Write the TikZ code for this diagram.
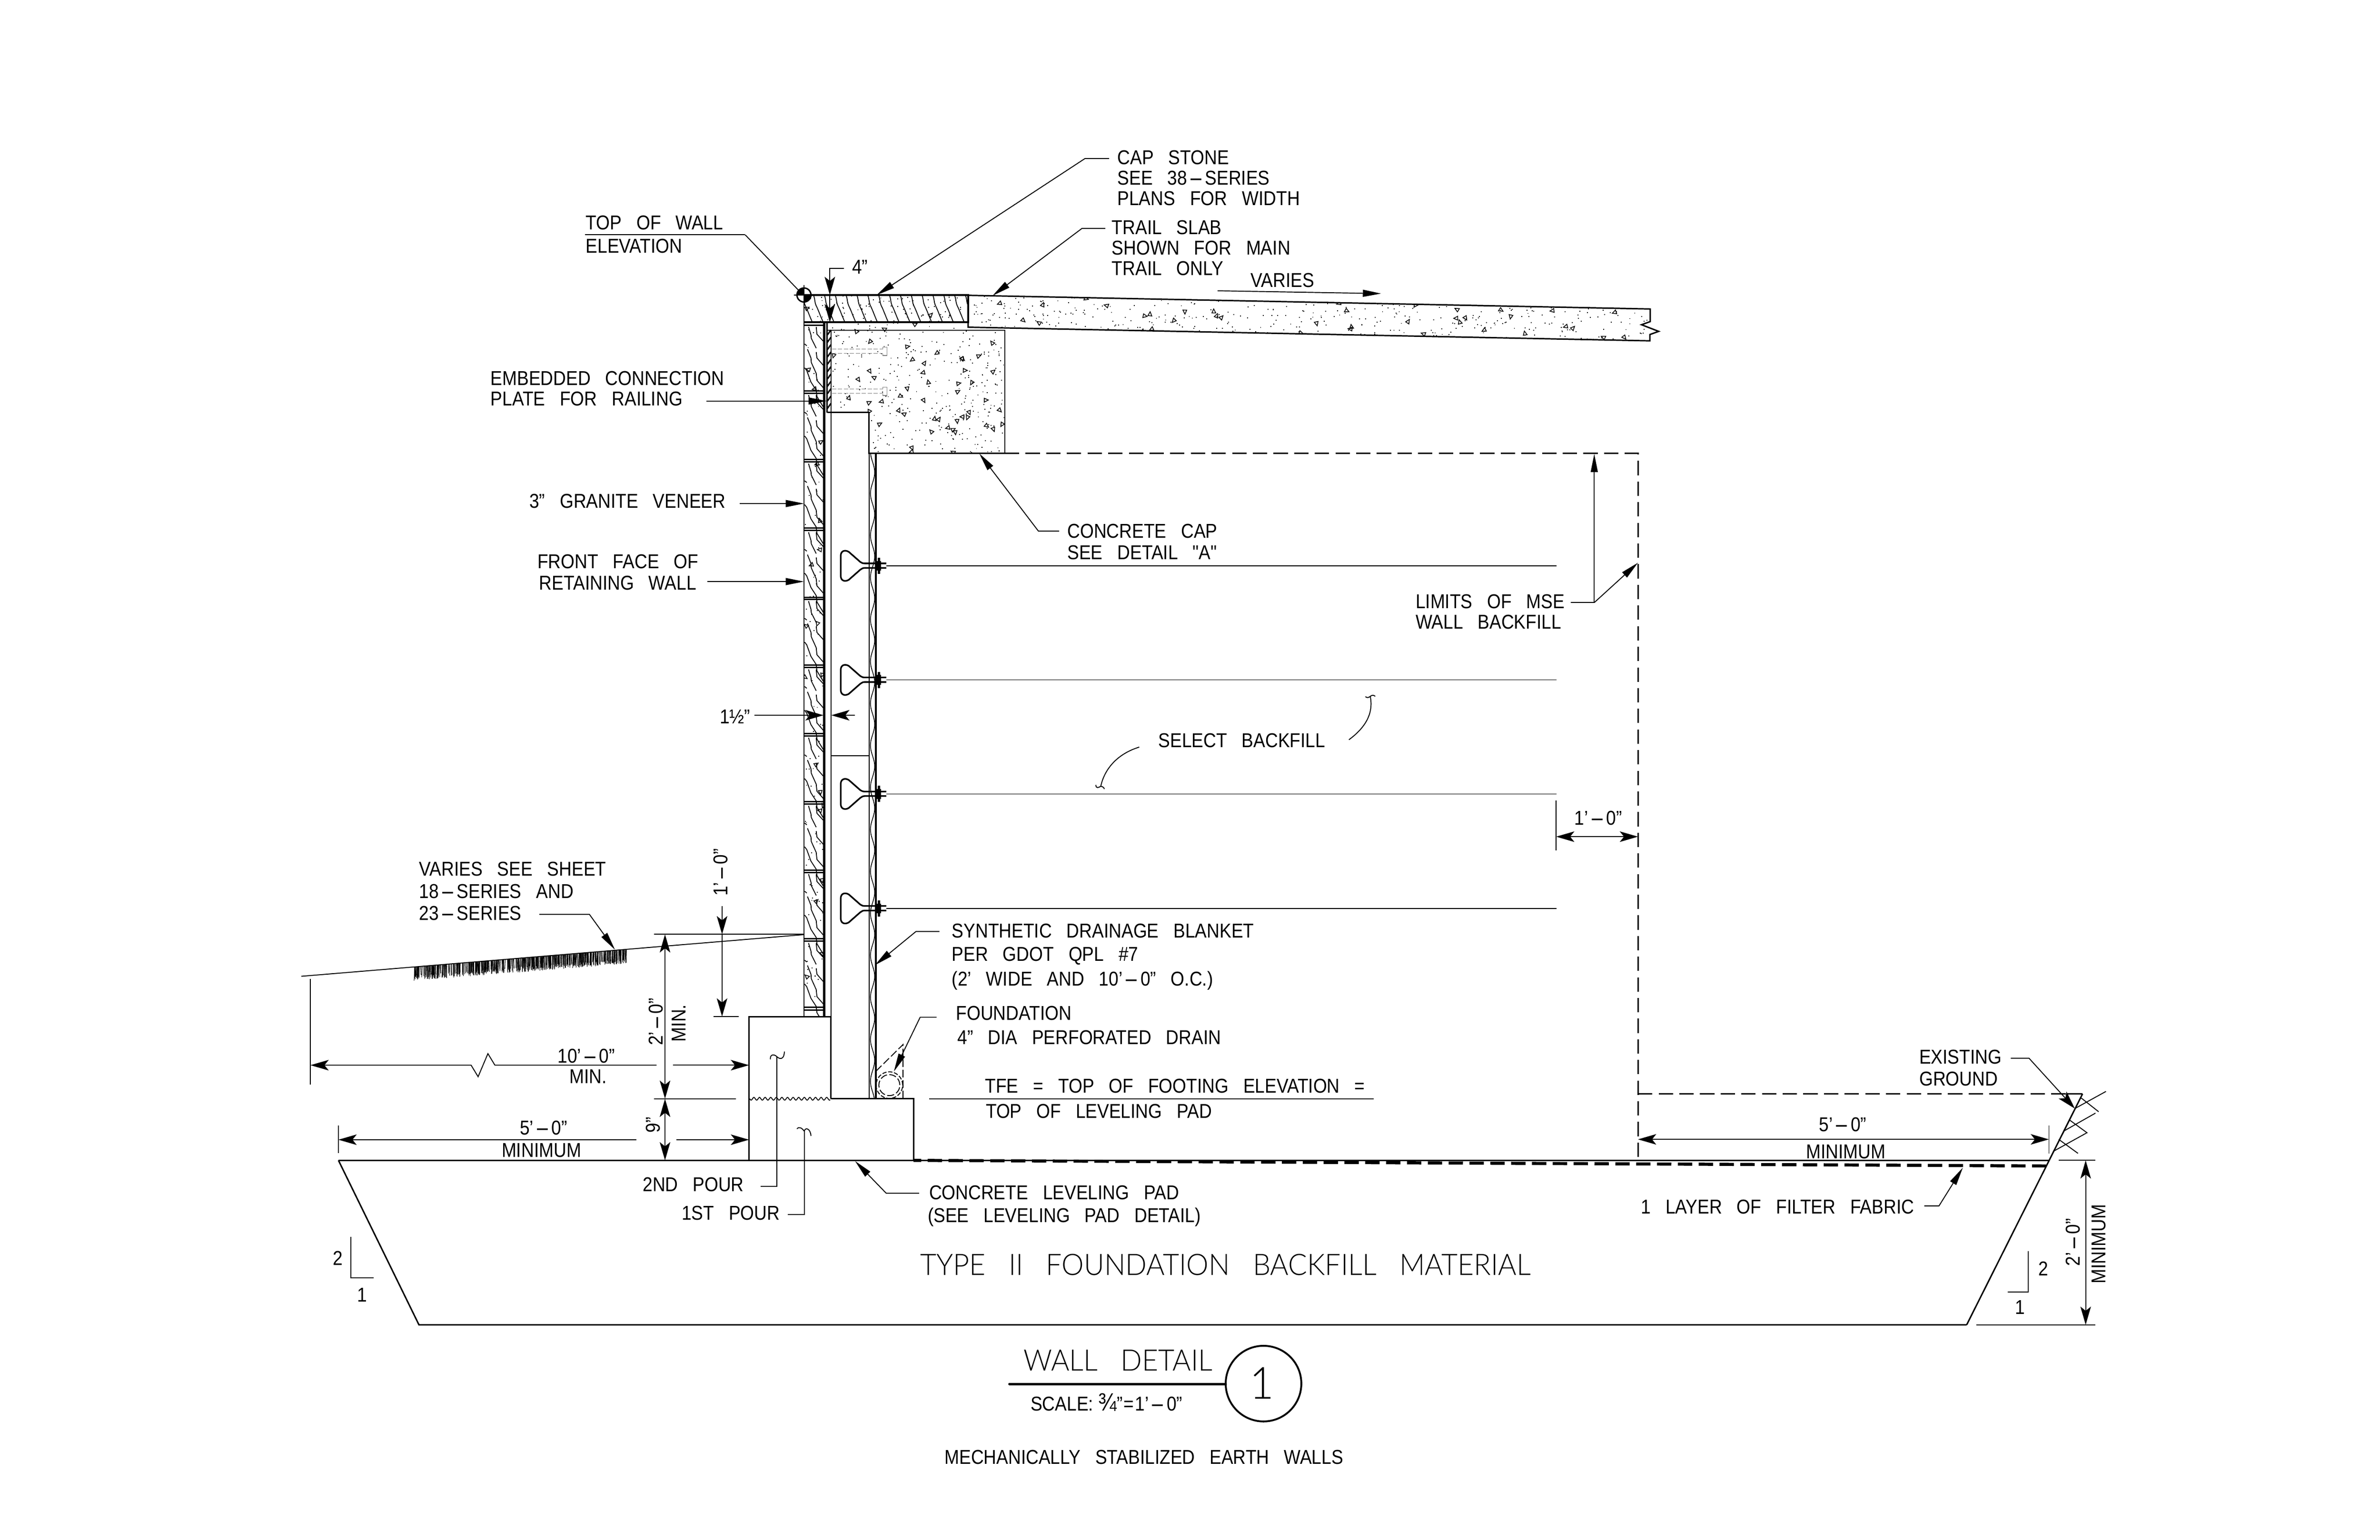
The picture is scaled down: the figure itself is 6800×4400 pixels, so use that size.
\documentclass[tikz,border=0pt]{standalone}
\usepackage{fontspec}
\usepackage{graphicx}
\usetikzlibrary{arrows.meta}
\setmainfont{Liberation Sans}
\newfontfamily\cad[FakeStretch=0.88,WordSpace=3]{Liberation Sans}
\newfontfamily\cadbig[FakeStretch=0.95,WordSpace=3,UprightFont={* Light}]{Lato}
\newcommand{\hy}{\kern.08em\scalebox{2.5}[1]{-}\kern.08em}
\tikzset{
  thinl/.style={line width=.75pt},
  medl/.style={line width=1.15pt},
  thickl/.style={line width=1.7pt},
  crack/.style={line width=.7pt},
  barb/.tip={Stealth[length=.52cm,width=.3cm,inset=.12cm]},
  tri/.tip={Triangle[length=.52cm,width=.2cm]},
  dashl/.style={medl,dash pattern=on .41cm off .18cm},
  lbl/.style={font=\cad\fontsize{16.3}{16.3}\selectfont,anchor=base west,inner sep=0pt},
  lblc/.style={font=\cad\fontsize{16.3}{16.3}\selectfont,anchor=base,inner sep=0pt},
  lblr/.style={lblc,rotate=90},
  big/.style={font=\cadbig\fontsize{24}{24}\selectfont,anchor=base west,inner sep=0pt},
  lead/.style={thinl,-{tri}},
  dim/.style={thinl,-{barb}},
}
\newcommand{\stipple}[7]{% count, x, w, y, h, triangles, extra
  \foreach \i in {1,...,#1}{
    \pgfmathsetmacro\rx{#2+rnd*#3}\pgfmathsetmacro\ry{#4+rnd*#5}
    \fill (\rx,\ry) rectangle ++(2.6,2.6);
  }
  \foreach \i in {1,...,#6}{
    \pgfmathsetmacro\rx{#2+rnd*#3}\pgfmathsetmacro\ry{#4+rnd*#5}\pgfmathsetmacro\ra{rnd*360}
    \draw[line width=.6pt,shift={(\rx,\ry)},rotate=\ra] (-5,3.5)--(6,3.5)--(0,-8)--cycle;
  }
}
\begin{document}
\begin{tikzpicture}[x=0.01cm,y=-0.01cm]
\useasboundingbox (0,0) rectangle (6800,4400);
\fill[white] (0,0) rectangle (6800,4400);
\pgfmathsetseed{4711}

% ---------- concrete cap stipple
\begin{scope}
  \clip (2363,921)--(2766,921)--(2766,944)--(2871,944)--(2871,1296)--(2482,1296)--(2482,1179)--(2363,1179)--cycle;
  \stipple{330}{2375}{496}{921}{375}{58}{}
\end{scope}
% hidden anchors
\foreach \y in {1004,1118}{
  \draw[gray,line width=.5pt,dash pattern=on .12cm off .05cm] (2377,\y-6)--(2522,\y-6) (2377,\y+6)--(2522,\y+6);
  \draw[gray,line width=.5pt] (2522,\y-6)--(2522,\y-12)--(2534,\y-12)--(2534,\y+12)--(2522,\y+12)--(2522,\y+6);
}
% concrete cap outline
\draw[thinl] (2363,944)--(2871,944)--(2871,1296);
\draw[medl] (2871,1296)--(2482,1296)--(2482,1179)--(2363,1179);
\draw[medl] (2363,921)--(2363,1179);
\draw[thinl] (2375,944)--(2375,3140);
\foreach \y in {950,971,...,1170}{\draw[medl] (2364,\y+7)--(2374,\y-7);}

% ---------- trail slab
\begin{scope}
  \clip (2766,844)--(4715,883)--(4715,974)--(2766,935)--cycle;
  \stipple{520}{2770}{1945}{840}{135}{62}{}
\end{scope}
\draw[medl] (2766,844)--(4715,883)--(4715,919)--(4690,928)--(4739,947)--(4714,956)--(4714,974)--(2766,935)--cycle;

% ---------- cap stone
\begin{scope}
  \clip (2297,843) rectangle (2766,921);
  \stipple{90}{2297}{469}{843}{78}{0}{}
  \foreach \k in {0,...,15}{
    \draw[crack,shift={({2293+31*\k},843)}] (0,0) .. controls (6,15) and (2,20) .. (10,35) .. controls (16,48) and (18,55) .. (28,78);
  }
\end{scope}
\draw[thickl] (2297,843)--(2766,843)--(2766,921)--(2297,921);
\draw[thinl] (2297,843)--(2297,2906);

% ---------- veneer
\begin{scope}
  \clip (2297,921) rectangle (2355,2906);
  \foreach \t in {929,1124,1320,1516,1713,1908,2103,2298,2493,2690}{
    \begin{scope}[shift={(2297,\t)}]
      \draw[crack] (10,69)--(20,94)--(21,107)--(35,138)--(37,158)--(57,181);
      \draw[crack] (2,122)--(8,130)--(20,163)--(35,186)--(37,204)--(57,237);
      \draw[crack] (35,77)--(37,94)--(57,117);
      \draw[crack] (13,5)--(20,28)--(21,38)--(35,66);
      \draw[crack] (35,5)--(37,26)--(57,48);
      \draw[crack] (2,54)--(8,59);
    \end{scope}
    \stipple{10}{2299}{54}{\t}{190}{0}{}
  }
\end{scope}
\draw[medl] (2297,929)--(2297,2906);
\draw[thickl] (2355,921)--(2355,2906);
\draw[medl] (2297,929)--(2355,929);
\foreach \a/\b in {1117/1124,1313/1320,1509/1516,1707/1713,1901/1908,2096/2103,2291/2298,2487/2493,2683/2690,2879/2886}{
  \draw[medl] (2297,\a)--(2355,\a) (2297,\b)--(2355,\b);
}

% ---------- wall panel, blanket, straps
\draw[thinl] (2483,1296)--(2483,3140);
\draw[thinl] (2375,2160)--(2483,2160);
\draw[line width=1.4pt] (2502,1296)--(2502,3140);
\draw[line width=.6pt] plot[domain=1296:3140,samples=240,smooth] ({2493+6*sin(\x*3)},\x);
\foreach \s in {1617,1943,2269,2596}{
  \draw[line width=1.3pt,line join=round] (2532,\s-7)--(2470,\s-7) .. controls (2464,\s-7) and (2462,\s-9) .. (2458,\s-11)
     --(2425,\s-40) .. controls (2415,\s-46) and (2402,\s-44) .. (2402,\s-28)
     --(2402,\s+28) .. controls (2402,\s+44) and (2415,\s+46) .. (2425,\s+40)
     --(2458,\s+11) .. controls (2462,\s+9) and (2464,\s+6) .. (2470,\s+6) --(2532,\s+6);
  \fill (2508,\s-23) rectangle (2515,\s+23);
  \fill (2502,\s-14) rectangle (2518,\s+14);
  \draw[line width=.55pt] (2532,\s)--(4447,\s);
}

% ---------- footing
\draw[medl] (2374,3140)--(2374,2906)--(2140,2906)--(2140,3316);
\draw[medl] (2374,3140)--(2610,3140)--(2610,3316);
\draw[line width=.7pt] plot[domain=0:230,samples=120] ({2142+\x},{3140+4*sin(\x*22.5)});

% ---------- drain
\draw[thinl,dash pattern=on .12cm off .05cm] (2541,3101) circle[radius=.38cm];
\draw[thinl,dash pattern=on .2cm off .07cm] (2541,3101) circle[radius=.3cm];
\draw[thinl,dash pattern=on .22cm off .08cm] (2503,3061)--(2580,2985)--(2580,3140);

% ---------- ground and backfill
\draw[medl] (967,3316)--(2610,3316) (2610,3316)--(5854,3316);
\draw[medl] (967,3316)--(1197,3786)--(5619,3786);
\draw[medl] (5950,3126)--(5619,3786);
\draw[line width=2.5pt,dash pattern=on .41cm off .185cm,dash phase=.19cm] (2610,3316)--(5846,3332);
\draw[dashl] (2871,1296)--(4680,1296)--(4680,3316);
\draw[dashl] (4680,3126)--(5905,3126);
\draw[medl] (5905,3126)--(5950,3126);
\draw[thinl] (5928,3168)--(6017,3119) (5944,3136)--(5996,3177)
             (5897,3232)--(5987,3181) (5912,3200)--(5964,3238)
             (5867,3290)--(5961,3238) (5882,3256)--(5937,3296);

% grade and turf
\draw[thinl] (861,2790)--(2296,2671);
\begin{scope}
\foreach \i in {1,...,520}{
  \pgfmathsetmacro\rx{1184+rnd*607}
  \pgfmathsetmacro\ry{2763-(\rx-1184)*0.0807}
  \pgfmathsetmacro\rl{24+rnd*16}
  \draw[line width=.4pt] (\rx,\ry)--({\rx+rnd*4-2},\ry+\rl);
}
\end{scope}

% ---------- top of wall marker
\fill (2297,843) -- (2317,843) arc[start angle=0,end angle=-90,radius=.2cm] -- cycle;
\fill (2297,843) -- (2277,843) arc[start angle=180,end angle=90,radius=.2cm] -- cycle;
\draw[medl] (2297,843) circle[radius=.2cm];
\draw[thinl] (2269,843)--(2325,843) (2297,815)--(2297,871);

% ---------- leaders
\draw[thinl] (2129,671)--(2282,830);
\draw[thinl] (1671,671)--(2129,671);
\draw[lead] (3169,453)--(3100,453)--(2505,843);
\draw[lead] (3158,653)--(3091,653)--(2836,845);
\draw[lead] (3479,831)--(3946,839);
\draw[dim] (2411,767)--(2371,767)--(2371,843);
\draw[dim] (2371,843)--(2371,921);
\draw[lead] (2018,1146)--(2362,1146);
\draw[lead] (2113,1439)--(2297,1439);
\draw[lead] (2021,1662)--(2297,1662);
\draw[lead] (3026,1518)--(2967,1518)--(2798,1296);
\draw[lead] (4488,1722)--(4555,1722)--(4555,1297);
\draw[lead] (4555,1722)--(4680,1608);
\draw[dim] (2155,2044)--(2353,2044);
\draw[dim] (2442,2044)--(2375,2044);
\draw[lead] (1541,2613)--(1684,2613)--(1757,2714);
\draw[lead] (2684,2662)--(2617,2662)--(2500,2758);
\draw[lead] (2676,2907)--(2629,2907)--(2554,3062);
\draw[thinl] (2655,3140)--(3925,3140);
\draw[lead] (2626,3410)--(2532,3410)--(2443,3318);
\draw[lead] (5498,3446)--(5540,3446)--(5608,3337);
\draw[dim] (5745,3024)--(5797,3024)--(5928,3168);

% pour leaders
\draw[thinl] (2173,3391)--(2220,3391)--(2220,3020);
\draw[thinl] (2201,3027) .. controls (2200,3012) and (2212,3012) .. (2220,3020) .. controls (2228,3028) and (2241,3028) .. (2241,3005);
\draw[thinl] (2251,3471)--(2298,3471)--(2298,3233);
\draw[thinl] (2277,3226) .. controls (2283,3218) and (2292,3224) .. (2298,3233) .. controls (2300,3220) and (2316,3225) .. (2317,3246);

% select backfill curved leaders
\draw[thinl] (3255,2135) .. controls (3190,2155) and (3155,2200) .. (3145,2247);
\draw[thinl] (3131,2243) .. controls (3131,2255) and (3140,2250) .. (3145,2247) .. controls (3152,2248) and (3155,2252) .. (3155,2255);
\draw[thinl] (3854,2114) .. controls (3900,2080) and (3925,2040) .. (3915,1990);
\draw[thinl] (3901,1991) .. controls (3908,1996) and (3912,1992) .. (3915,1990) .. controls (3920,1985) and (3927,1987) .. (3929,1990);

% ---------- dimensions
\draw[thinl] (887,2798)--(887,3100);
\draw[thinl,{barb}-] (887,3044)--(1346,3044)--(1366,3077)--(1394,3011)--(1414,3044)--(1876,3044);
\draw[dim] (1923,3044)--(2140,3044);
\draw[thinl] (967,3217)--(967,3295);
\draw[thinl,{barb}-] (967,3257)--(1818,3257);
\draw[dim] (1932,3257)--(2140,3257);
\draw[thinl] (1869,2670)--(2296,2670);
\draw[thinl] (1869,3140)--(2102,3140);
\draw[thinl,{barb}-{barb}] (1900,2670)--(1900,3140);
\draw[thinl,{barb}-{barb}] (1900,3140)--(1900,3316);
\draw[dim] (2063,2590)--(2063,2670);
\draw[dim] (2063,2670)--(2063,2905);
\draw[thinl] (2038,2905)--(2111,2905);
\draw[thinl] (4446,2288)--(4446,2430);
\draw[thinl,{barb}-{barb}] (4446,2391)--(4680,2391);
\draw[thinl] (5854,3217)--(5854,3297);
\draw[thinl,{barb}-{barb}] (4680,3256)--(5854,3256);
\draw[thinl] (5882,3316)--(5987,3316) (5647,3786)--(5987,3786);
\draw[thinl,{barb}-{barb}] (5959,3316)--(5959,3786);
% slope marks
\draw[thinl] (1002,3534)--(1002,3652)--(1067,3652);
\draw[thinl] (5795,3575)--(5795,3692)--(5736,3692);

% ---------- title block
\draw[line width=1.9pt,line cap=round] (2884,3955)--(3502,3955);
\draw[line width=1.5pt] (3610,3954) circle[radius=1.08cm];

% ---------- text
\node[lbl] (t1) at (1673,656) {TOP OF WALL};
\node[lbl] (t2) at (1673,723) {ELEVATION};
\node[lbl] (t3) at (3192,470) {CAP STONE};
\node[lbl] (t4) at (3192,528) {SEE 38\hy SERIES};
\node[lbl] (t5) at (3192,587) {PLANS FOR WIDTH};
\node[lbl] (t6) at (3176,670) {TRAIL SLAB};
\node[lbl] (t7) at (3176,728) {SHOWN FOR MAIN};
\node[lbl] (t8) at (3176,787) {TRAIL ONLY};
\node[lbl] (t9) at (3573,821) {VARIES};
\node[lbl] (t10) at (2434,782) {4”};
\node[lbl] (t11) at (1401,1101) {EMBEDDED CONNECTION};
\node[lbl] (t12) at (1401,1160) {PLATE FOR RAILING};
\node[lbl] (t13) at (1512,1452) {3” GRANITE VENEER};
\node[lbl] (t14) at (1535,1625) {FRONT FACE OF};
\node[lbl] (t15) at (1540,1686) {RETAINING WALL};
\node[lbl] (t16) at (3049,1538) {CONCRETE CAP};
\node[lbl] (t17) at (3049,1599) {SEE DETAIL "A"};
\node[lbl] (t18) at (4044,1739) {LIMITS OF MSE};
\node[lbl] (t19) at (4044,1797) {WALL BACKFILL};
\node[lbl] (t20) at (2056,2068) {1½”};
\node[lbl] (t21) at (3309,2136) {SELECT BACKFILL};
\node[lbl] (t22) at (4498,2357) {1’\hy 0”};
\node[lbl] (t23) at (1197,2503) {VARIES SEE SHEET};
\node[lbl] (t24) at (1197,2567) {18\hy SERIES AND};
\node[lbl] (t25) at (1197,2630) {23\hy SERIES};
\node[lbl] (t26) at (2719,2680) {SYNTHETIC DRAINAGE BLANKET};
\node[lbl] (t27) at (2719,2747) {PER GDOT QPL \#7};
\node[lbl] (t28) at (2719,2817) {(2’ WIDE AND 10’\hy 0” O.C.)};
\node[lbl] (t29) at (2731,2915) {FOUNDATION};
\node[lbl] (t30) at (2735,2985) {4” DIA PERFORATED DRAIN};
\node[lbl] (t31) at (2814,3123) {TFE = TOP OF FOOTING ELEVATION =};
\node[lbl] (t32) at (2816,3195) {TOP OF LEVELING PAD};
\node[lbl] (t33) at (5483,3040) {EXISTING};
\node[lbl] (t34) at (5483,3103) {GROUND};
\node[lblc] (t35) at (1675,3037) {10’\hy 0”};
\node[lblc] (t36) at (1680,3096) {MIN.};
\node[lblc] (t37) at (1553,3243) {5’\hy 0”};
\node[lblc] (t38) at (1547,3307) {MINIMUM};
\node[lblc] (t39) at (5265,3234) {5’\hy 0”};
\node[lblc] (t40) at (5274,3311) {MINIMUM};
\node[lbl] (t41) at (1836,3405) {2ND POUR};
\node[lbl] (t42) at (1947,3486) {1ST POUR};
\node[lbl] (t43) at (2654,3428) {CONCRETE LEVELING PAD};
\node[lbl] (t44) at (2650,3493) {(SEE LEVELING PAD DETAIL)};
\node[lbl] (t45) at (4688,3468) {1 LAYER OF FILTER FABRIC};
\node[lblr] (t46) at (1894,2920) {2’\hy 0”};
\node[lblr] (t47) at (1959,2924) {MIN.};
\node[lblr] (t48) at (2079,2493) {1’\hy 0”};
\node[lblr] (t49) at (1885,3215) {9”};
\node[lblr] (t50) at (5943,3550) {2’\hy 0”};
\node[lblr] (t51) at (6016,3555) {MINIMUM};
\node[lbl] (t52) at (950,3616) {2};
\node[lbl] (t53) at (1020,3720) {1};
\node[lbl] (t54) at (5823,3646) {2};
\node[lbl] (t55) at (5757,3756) {1};
\node[big] (t56) at (2629,3644) {TYPE II FOUNDATION BACKFILL MATERIAL};
\node[big] (t57) at (2924,3918) {WALL DETAIL};
\node[lbl] (t58) at (2944,4032) {SCALE:\kern.25em\scalebox{1.25}{¾}”\kern.05em=\kern.05em1’\hy 0”};
\node[font=\cadbig\fontsize{36}{36}\selectfont,anchor=base,inner sep=0pt] (t59) at (3606,3997) {1};
\node[lbl] (t60) at (2698,4184) {MECHANICALLY STABILIZED EARTH WALLS};
\end{tikzpicture}
\end{document}
